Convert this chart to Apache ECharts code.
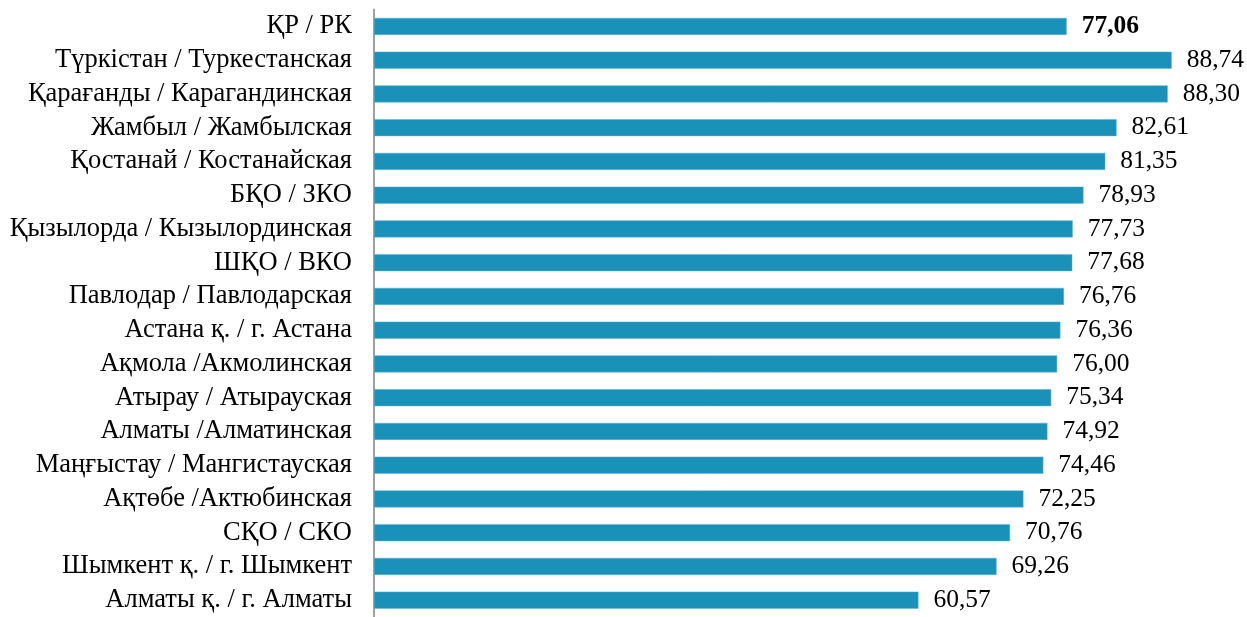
<!DOCTYPE html>
<html>
<head>
<meta charset="utf-8">
<script src="https://cdn.jsdelivr.net/npm/echarts@6/dist/echarts.min.js"></script>
<style>
html, body { margin: 0; padding: 0; background: #fff; }
#chart { width: 1247px; height: 617px; }
</style>
</head>
<body>
<div id="chart"></div>
<script>
// регионы, сверху вниз
var regions = [
  'ҚР / РК',
  'Түркістан / Туркестанская',
  'Қарағанды / Карагандинская',
  'Жамбыл / Жамбылская',
  'Қостанай / Костанайская',
  'БҚО / ЗКО',
  'Қызылорда / Кызылординская',
  'ШҚО / ВКО',
  'Павлодар / Павлодарская',
  'Астана қ. / г. Астана',
  'Ақмола /Акмолинская',
  'Атырау / Атырауская',
  'Алматы /Алматинская',
  'Маңғыстау / Мангистауская',
  'Ақтөбе /Актюбинская',
  'СҚО / СКО',
  'Шымкент қ. / г. Шымкент',
  'Алматы қ. / г. Алматы'
]
var values = [77.06, 88.74, 88.30, 82.61, 81.35, 78.93, 77.73, 77.68, 76.76, 76.36, 76.00, 75.34, 74.92, 74.46, 72.25, 70.76, 69.26, 60.57]

var chart = echarts.init(document.getElementById('chart'))

var barData = values.map(function(v, i) {
  var item = { value: v }
  // итог по РК жирным
  if (i === 0) {
    item.label = { fontWeight: 'bold' }
  }
  return item
})

chart.setOption({
  animation: false,
  grid: {
    left: 374,
    top: 9.5,
    width: 809,
    height: 613
  },
  xAxis: {
    type: 'value',
    min: 0,
    max: 90,
    show: false
  },
  yAxis: {
    type: 'category',
    inverse: true,
    data: regions,
    axisLine: { show: true, lineStyle: { color: '#a0a0a0', width: 2 } },
    axisTick: { show: false },
    axisLabel: {
      interval: 0,
      margin: 22,
      padding: [4, 0, 0, 0],
      color: '#000',
      fontFamily: 'Liberation Serif',
      fontSize: 26.5
    }
  },
  series: [
    {
      type: 'bar',
      data: barData,
      barWidth: 17,
      itemStyle: {
        color: '#1a91b9',
        borderColor: '#5fb3d0',
        borderWidth: 0.5
      },
      label: {
        show: true,
        position: 'right',
        distance: 15,
        padding: [4, 0, 0, 0],
        color: '#000',
        fontFamily: 'Liberation Serif',
        fontSize: 25.5,
        formatter: function(p) {
          return p.value.toFixed(2).replace('.', ',')
        }
      }
    }
  ]
})
</script>
</body>
</html>
